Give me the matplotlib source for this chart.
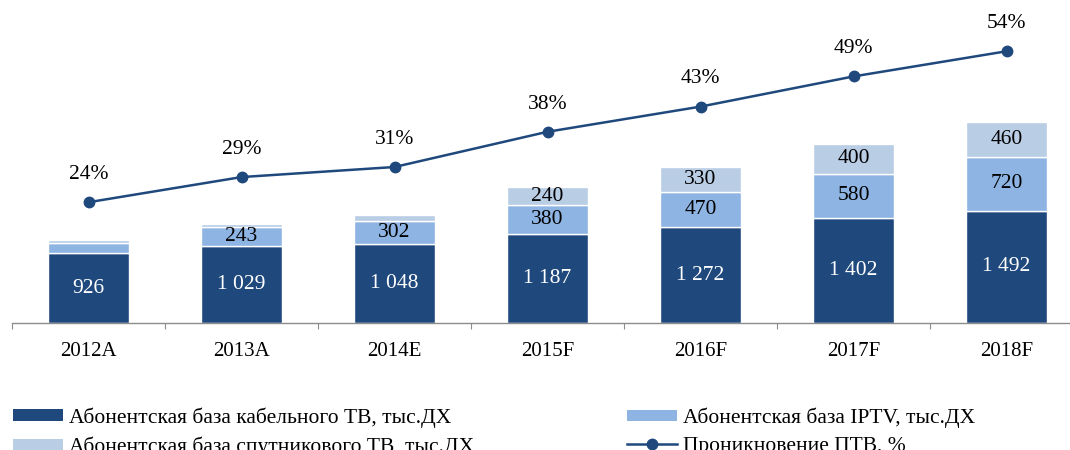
import matplotlib
matplotlib.use('Agg')
import matplotlib.pyplot as plt
import numpy as np
from matplotlib.patches import Patch
from matplotlib.lines import Line2D

categories = ['2012A', '2013A', '2014E', '2015F', '2016F', '2017F', '2018F']
cable = [926, 1029, 1048, 1187, 1272, 1402, 1492]
iptv = [140, 243, 302, 380, 470, 580, 720]
satellite = [40, 50, 80, 240, 330, 400, 460]
penetration = [24, 29, 31, 38, 43, 49, 54]
cable_labels = ['926', '1 029', '1 048', '1 187', '1 272', '1 402', '1 492']
iptv_labels = ['', '243', '302', '380', '470', '580', '720']
sat_labels = ['', '', '', '240', '330', '400', '460']
pen_labels = ['24%', '29%', '31%', '38%', '43%', '49%', '54%']
legend_labels = ['Абонентская база кабельного ТВ, тыс.ДХ',
                 'Абонентская база спутникового ТВ, тыс.ДХ',
                 'Абонентская база IPTV, тыс.ДХ',
                 'Проникновение ПТВ, %']

DARK = '#1F497D'
IPTV = '#8DB4E2'
SAT = '#B9CDE5'
LINE = '#1F497D'
GRAY = '#8C8C8C'

plt.rcParams['font.family'] = ['Liberation Serif', 'DejaVu Serif']

fig = plt.figure(figsize=(10.7, 4.5), dpi=100)
ax = fig.add_axes([12 / 1070, 127 / 450, 1071 / 1070, 313 / 450])

x = np.arange(len(categories))
w = 0.535
b1 = ax.bar(x, cable, w, color=DARK, edgecolor='white', linewidth=1)
b2 = ax.bar(x, iptv, w, bottom=cable, color=IPTV, edgecolor='white', linewidth=1)
bottom3 = np.add(cable, iptv)
b3 = ax.bar(x, satellite, w, bottom=bottom3, color=SAT, edgecolor='white', linewidth=1)

ax.bar_label(b1, labels=cable_labels, label_type='center', color='white', fontsize=15.5)
ax.bar_label(b2, labels=iptv_labels, label_type='center', color='black', fontsize=15.5)
ax.bar_label(b3, labels=sat_labels, label_type='center', color='black', fontsize=15.5)

ax.set_xlim(-0.5, len(categories) - 0.5)
ax.set_ylim(0, 4162)
ax.set_yticks([])
ax.set_xticks(x)
ax.set_xticklabels(categories, fontsize=15)
ax.set_xticks(np.arange(len(categories) + 1) - 0.5, minor=True)
ax.tick_params(axis='x', which='major', length=0, pad=14)
ax.tick_params(axis='x', which='minor', length=4.5, width=0.8, color=GRAY, direction='out')
for s in ['top', 'left', 'right']:
    ax.spines[s].set_visible(False)
ax.spines['bottom'].set_color(GRAY)
ax.spines['bottom'].set_linewidth(1)

ax2 = ax.twinx()
ax2.set_ylim(0, 62.2)
ax2.plot(x, penetration, color=LINE, linewidth=1.8, marker='o', markersize=7.5)
for xi, v, lbl in zip(x, penetration, pen_labels):
    ax2.annotate(lbl, (xi, v), xytext=(0, 20), textcoords='offset points',
                 ha='center', va='center', fontsize=15.5)
ax2.set_yticks([])
for s in ['top', 'left', 'right', 'bottom']:
    ax2.spines[s].set_visible(False)

h1 = [Patch(facecolor=DARK), Patch(facecolor=SAT)]
h2 = [Patch(facecolor=IPTV),
      Line2D([0], [0], color=LINE, linewidth=1.8, marker='o', markersize=7.5)]
common = dict(loc='center left', frameon=False, fontsize=15.5, handlelength=2.3,
              handleheight=0.42, handletextpad=0.3, labelspacing=0.4,
              borderpad=0, borderaxespad=0)
fig.legend(h1, legend_labels[:2], bbox_to_anchor=(13 / 1070, 18 / 450), **common)
fig.legend(h2, legend_labels[2:], bbox_to_anchor=(627 / 1070, 18 / 450), **common)

fig.savefig('out.png', dpi=100)
